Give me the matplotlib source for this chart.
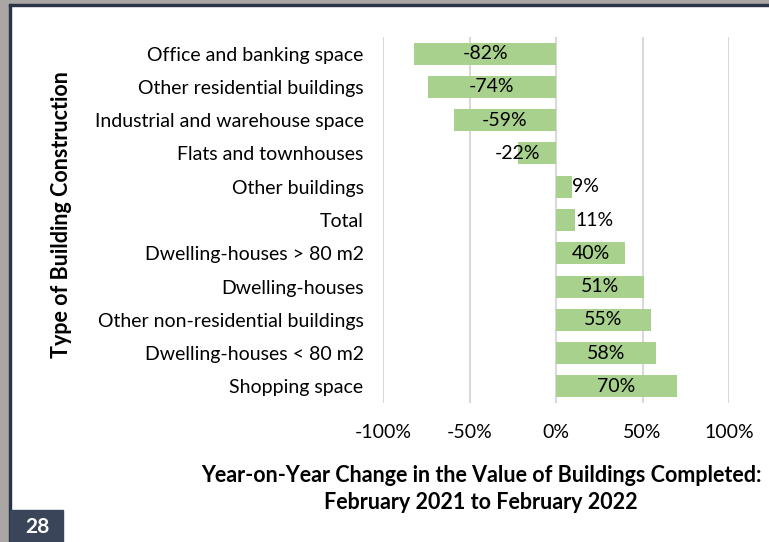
import matplotlib
matplotlib.use('Agg')
import matplotlib.pyplot as plt
from matplotlib.patches import Rectangle
from matplotlib.ticker import FuncFormatter

plt.rcParams['font.family'] = ['Lato', 'DejaVu Sans']

# Year-on-year change by building type (top to bottom)
categories = [
    'Office and banking space',
    'Other residential buildings',
    'Industrial and warehouse space',
    'Flats and townhouses',
    'Other buildings',
    'Total',
    'Dwelling-houses > 80 m2',
    'Dwelling-houses',
    'Other non-residential buildings',
    'Dwelling-houses < 80 m2',
    'Shopping space',
]
changes = [-82, -74, -59, -22, 9, 11, 40, 51, 55, 58, 70]
xticks = [-100, -50, 0, 50, 100]

W, H = 769, 542
FS = 14
fig = plt.figure(figsize=(W / 100, H / 100), dpi=100)

# page frame: grey margin, dark rule, page number box
fig.patches.append(Rectangle((0, 1 - 4 / H), 1, 4 / H, transform=fig.transFigure,
                             color='#a9a6a4', zorder=0))
fig.patches.append(Rectangle((0, 0), 9 / W, 1, transform=fig.transFigure,
                             color='#a9a6a4', zorder=0))
fig.patches.append(Rectangle((9 / W, 0), 2 / W, 1 - 4 / H, transform=fig.transFigure,
                             color='#2b3445', zorder=0))
fig.patches.append(Rectangle((9 / W, 1 - 6 / H), 1, 2 / H, transform=fig.transFigure,
                             color='#2b3445', zorder=0))
fig.patches.append(Rectangle((10 / W, 0), 53 / W, 32 / H, transform=fig.transFigure,
                             color='#3a4559', zorder=1))
fig.text(37 / W, 15 / H, '28', color='white', fontsize=15, fontweight='bold',
         ha='center', va='center')

ax = fig.add_axes([383 / W, 1 - 403 / H, 346 / W, 366 / H])
y = list(range(len(categories)))
ax.barh(y, changes, height=0.66, color='#a9d18e', zorder=2)
ax.set_ylim(len(categories) - 0.5, -0.5)
ax.set_xlim(-100, 100)
ax.set_xticks(xticks)
ax.xaxis.set_major_formatter(FuncFormatter(lambda v, p: f'{v:.0f}%'))
ax.set_yticks(y)
ax.set_yticklabels(categories)
ax.tick_params(axis='both', length=0, labelsize=FS, colors='black')
ax.tick_params(axis='x', pad=15)
ax.tick_params(axis='y', pad=14)
ax.grid(axis='x', color='#d9d9d9', linewidth=1.5, zorder=0)
ax.set_axisbelow(True)
for s in ax.spines.values():
    s.set_visible(False)

# value labels: centred in wide bars, beside narrow ones
for yi, v in zip(y, changes):
    if abs(v) >= 30:
        ax.text(v / 2, yi, f'{v}%', ha='center', va='center', fontsize=FS, zorder=3)
    elif v > 0:
        ax.text(v + 0.5, yi, f'{v}%', ha='left', va='center', fontsize=FS, zorder=3)
    else:
        ax.text(v, yi, f'{v}%', ha='center', va='center', fontsize=FS, zorder=3)

fig.text(62 / W, 1 - 215 / H, 'Type of Building Construction', rotation=90,
         ha='center', va='center', fontsize=15.5, fontweight='bold')
fig.text(481 / W, 1 - 489 / H,
         'Year-on-Year Change in the Value of Buildings Completed:\nFebruary 2021 to February 2022',
         ha='center', va='center', fontsize=15.5, fontweight='bold', linespacing=1.4)

fig.savefig('out.png', dpi=100)
